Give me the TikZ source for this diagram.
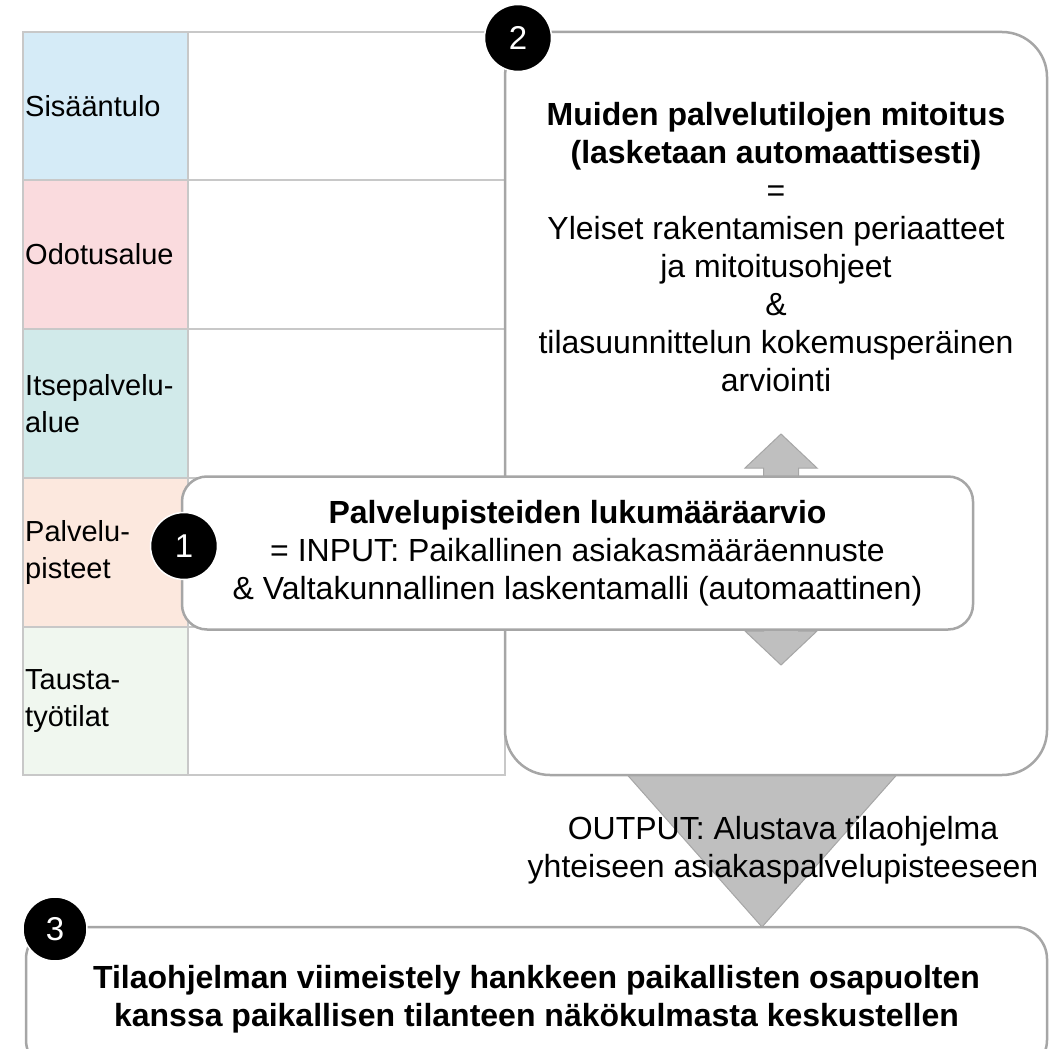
\documentclass[tikz,border=0pt]{standalone}
\usepackage{fontspec}
\setmainfont{Liberation Sans}
\usetikzlibrary{positioning}

\definecolor{sisaan}{HTML}{D5EBF7}
\definecolor{odotus}{HTML}{FADBDE}
\definecolor{itsepalv}{HTML}{D1EAEA}
\definecolor{palvpiste}{HTML}{FCE8DE}
\definecolor{tausta}{HTML}{F0F7EF}
\definecolor{gridgray}{HTML}{C8C8C8}
\definecolor{boxgray}{HTML}{A6A6A6}
\definecolor{arrowgray}{HTML}{BFBFBF}

\begin{document}
\begin{tikzpicture}[
    x=1pt, y=-1pt,
    cell/.style={
        draw=gridgray,
        line width=1.5pt,
    },
    rowlabel/.style={
        anchor=west,
        align=left,
        inner sep=0pt,
        font=\fontsize{29}{37}\selectfont,
    },
    roundbox/.style={
        rectangle,
        draw=boxgray,
        line width=2.5pt,
        fill=white,
        inner sep=0pt,
        outer sep=0pt,
        align=center,
        font=\fontsize{32}{38}\selectfont,
    },
    boxtext/.style={
        align=center,
        inner sep=0pt,
        font=\fontsize{32}{38}\selectfont,
    },
    stepnum/.style={
        circle,
        fill=black,
        draw=white,
        line width=1.5pt,
        minimum size=67pt,
        inner sep=0pt,
        text=white,
        font=\fontsize{33}{38}\selectfont,
    },
    blockarrow/.style={
        fill=arrowgray,
        draw=boxgray,
        line width=1pt,
    }
]
    \useasboundingbox (0,0) rectangle (1056,1048);

    % Space table
    \foreach \ya/\yb/\shade/\name/\txt in {
        32/180/sisaan/sisaantulo/{Sisääntulo},
        180/329/odotus/odotusalue/{Odotusalue},
        329/478/itsepalv/itsepalvelu/{Itsepalvelu-\\alue},
        478/627/palvpiste/palvelupisteet/{Palvelu-\\pisteet},
        627/775/tausta/taustatilat/{Tausta-\\työtilat}}
    {
        \fill[\shade] (23,\ya) rectangle (188,\yb);
        \draw[cell] (23,\ya) rectangle (188,\yb);
        \draw[cell] (188,\ya) rectangle (505,\yb);
        \node[rowlabel] (\name) at (25,{(\ya+\yb)/2}) {\txt};
    }

    % Step 3 box
    \node[roundbox, rounded corners=32pt, minimum width=1021pt, minimum height=145pt,
          font=\fontsize{32}{38}\selectfont\bfseries] (lopputila) at (536.5,999.5)
        {Tilaohjelman viimeistely hankkeen paikallisten osapuolten\\
         kanssa paikallisen tilanteen näkökulmasta keskustellen};

    % Output arrow (under step 2 box)
    \coordinate (karki) at (762,927);
    \filldraw[blockarrow] (karki) -- ++(-201,-227) -- ++(402,0) -- cycle;

    % Step 2 box
    \node[roundbox, rounded corners=45pt, minimum width=542pt, minimum height=743pt]
        (mitoitus) at (776,403.5) {};
    \node[boxtext, below=70pt of mitoitus.north] (mitoitusteksti)
        {\textbf{Muiden palvelutilojen mitoitus}\\
         \textbf{(lasketaan automaattisesti)}\\
         =\\
         Yleiset rakentamisen periaatteet\\
         ja mitoitusohjeet\\
         \&\\
         tilasuunnittelun kokemusperäinen\\
         arviointi};

    % Two-way arrow between steps 1 and 2
    \coordinate (ylos) at (781,434);
    \filldraw[blockarrow] (ylos) -- ++(36,34) -- ++(-18.5,0) -- ++(0,163)
        -- ++(18.5,0) -- ++(-36,34) -- ++(-36,-34) -- ++(18.5,0)
        -- ++(0,-163) -- ++(-18.5,0) -- cycle;

    % Step 1 box
    \node[roundbox, rounded corners=25pt, minimum width=791pt, minimum height=153pt]
        (arvio) at (577.5,553)
        {\textbf{Palvelupisteiden lukumääräarvio}\\
         = INPUT: Paikallinen asiakasmääräennuste\\
         \& Valtakunnallinen laskentamalli (automaattinen)};

    % Output text
    \node[boxtext] (tuotos) at (783,850)
        {OUTPUT: Alustava tilaohjelma\\
         yhteiseen asiakaspalvelupisteeseen};

    % Step numbers
    \node[stepnum] (vaihe1) at (184,546) {1};
    \node[stepnum] (vaihe2) at (518,38) {2};
    \node[stepnum, minimum size=64pt] (vaihe3) at (55,929) {3};
\end{tikzpicture}
\end{document}
